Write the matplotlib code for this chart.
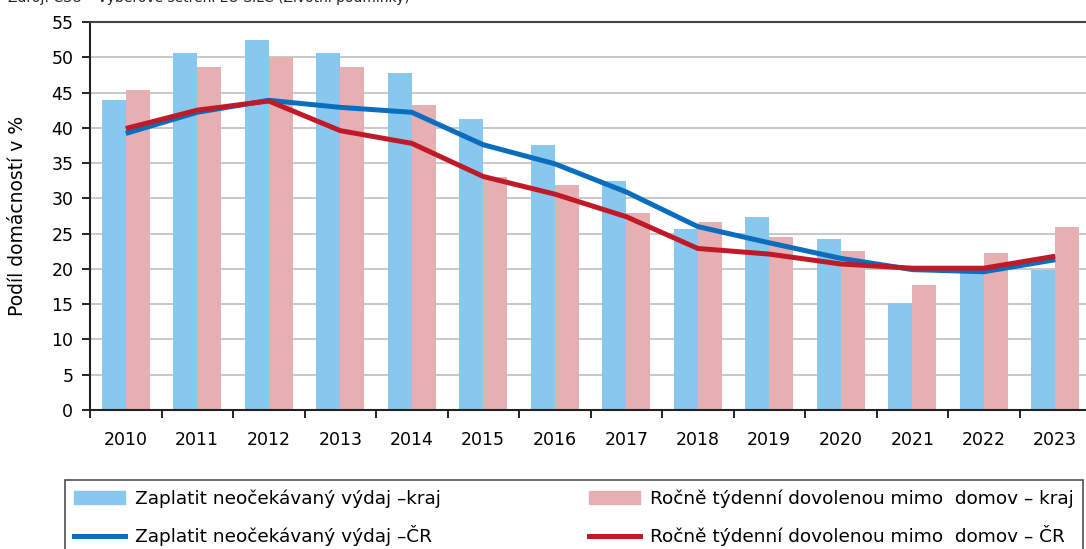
import numpy as np
import matplotlib.pyplot as plt
from matplotlib.patches import Patch
from matplotlib.lines import Line2D

plt.rcParams["font.family"] = ["DejaVu Sans"]

# data
years = ["2010", "2011", "2012", "2013", "2014", "2015", "2016",
         "2017", "2018", "2019", "2020", "2021", "2022", "2023"]
vydaj_kraj = [44.0, 50.6, 52.5, 50.6, 47.7, 41.2, 37.5,
              32.4, 25.7, 27.3, 24.2, 15.1, 19.6, 19.8]
dovolena_kraj = [45.4, 48.6, 50.0, 48.6, 43.2, 33.0, 31.9,
                 27.9, 26.7, 24.5, 22.5, 17.7, 22.2, 25.9]
vydaj_cr = [39.2, 42.2, 43.9, 42.9, 42.2, 37.6, 34.9,
            30.9, 26.0, 23.7, 21.5, 19.9, 19.6, 21.3]
dovolena_cr = [39.9, 42.5, 43.8, 39.6, 37.8, 33.1, 30.6,
               27.4, 22.9, 22.1, 20.7, 20.1, 20.1, 21.8]

labels = ["Zaplatit neočekávaný výdaj –kraj",
          "Zaplatit neočekávaný výdaj –ČR",
          "Ročně týdenní dovolenou mimo  domov – kraj",
          "Ročně týdenní dovolenou mimo  domov – ČR"]

c_bar1 = "#88C8EE"
c_bar2 = "#E6AFB2"
c_line1 = "#0A6DBE"
c_line2 = "#C01A28"

fig = plt.figure(figsize=(10.86, 5.49), dpi=100)
ax = fig.add_axes([90 / 1086, 1 - 410 / 549, 1001 / 1086, 388 / 549])

x = np.arange(len(years))
w = 0.336
ax.bar(x - w / 2, vydaj_kraj, width=w, color=c_bar1, zorder=2)
ax.bar(x + w / 2, dovolena_kraj, width=w, color=c_bar2, zorder=2)
ax.plot(x, vydaj_cr, color=c_line1, lw=3.6, zorder=3, solid_capstyle="butt")
ax.plot(x, dovolena_cr, color=c_line2, lw=3.6, zorder=4, solid_capstyle="butt")

ax.set_xlim(-0.5, len(years) - 0.5)
ax.set_ylim(0, 55)
ax.set_yticks(np.arange(0, 56, 5))
ax.yaxis.grid(True, color="#C8C8C8", lw=1.4, zorder=0)
ax.set_axisbelow(True)

ax.set_xticks(x)
ax.set_xticklabels(years)
ax.set_xticks(np.arange(-0.5, len(years), 1), minor=True)
ax.tick_params(axis="x", which="major", length=0, pad=15, labelsize=12.5)
ax.tick_params(axis="x", which="minor", length=6, direction="out", width=1.2)
ax.tick_params(axis="y", length=6, direction="out", width=1.2, pad=6, labelsize=12.5)

for s in ["left", "bottom"]:
    ax.spines[s].set_color("#222222")
    ax.spines[s].set_linewidth(1.5)
ax.spines["top"].set_color("#444444")
ax.spines["top"].set_linewidth(1.5)
ax.spines["right"].set_visible(False)

ax.set_ylabel("Podíl domácností v %", fontsize=13.5)
ax.yaxis.set_label_coords(-0.063, 0.5)

# source line, cut off at the top edge in the reference
fig.text(0.007, 1 - 2 / 549, "Zdroj: ČSÚ – Výběrové šetření EU-SILC (Životní podmínky)",
         fontsize=10, va="baseline", ha="left", color="#222222")

handles = [Patch(color=c_bar1),
           Line2D([], [], color=c_line1, lw=3.6),
           Patch(color=c_bar2),
           Line2D([], [], color=c_line2, lw=3.6)]
leg = fig.legend(handles, labels, ncol=2, loc="upper left",
                 bbox_to_anchor=(65 / 1086, 1 - 480 / 549),
                 fontsize=13.3, frameon=True, fancybox=False,
                 handlelength=2.75, handleheight=0.75, handletextpad=0.55,
                 labelspacing=0.95, columnspacing=8.0, borderpad=0.5,
                 borderaxespad=0)
leg.get_frame().set_edgecolor("#222222")
leg.get_frame().set_linewidth(1.2)

fig.savefig("out.png", dpi=100)
